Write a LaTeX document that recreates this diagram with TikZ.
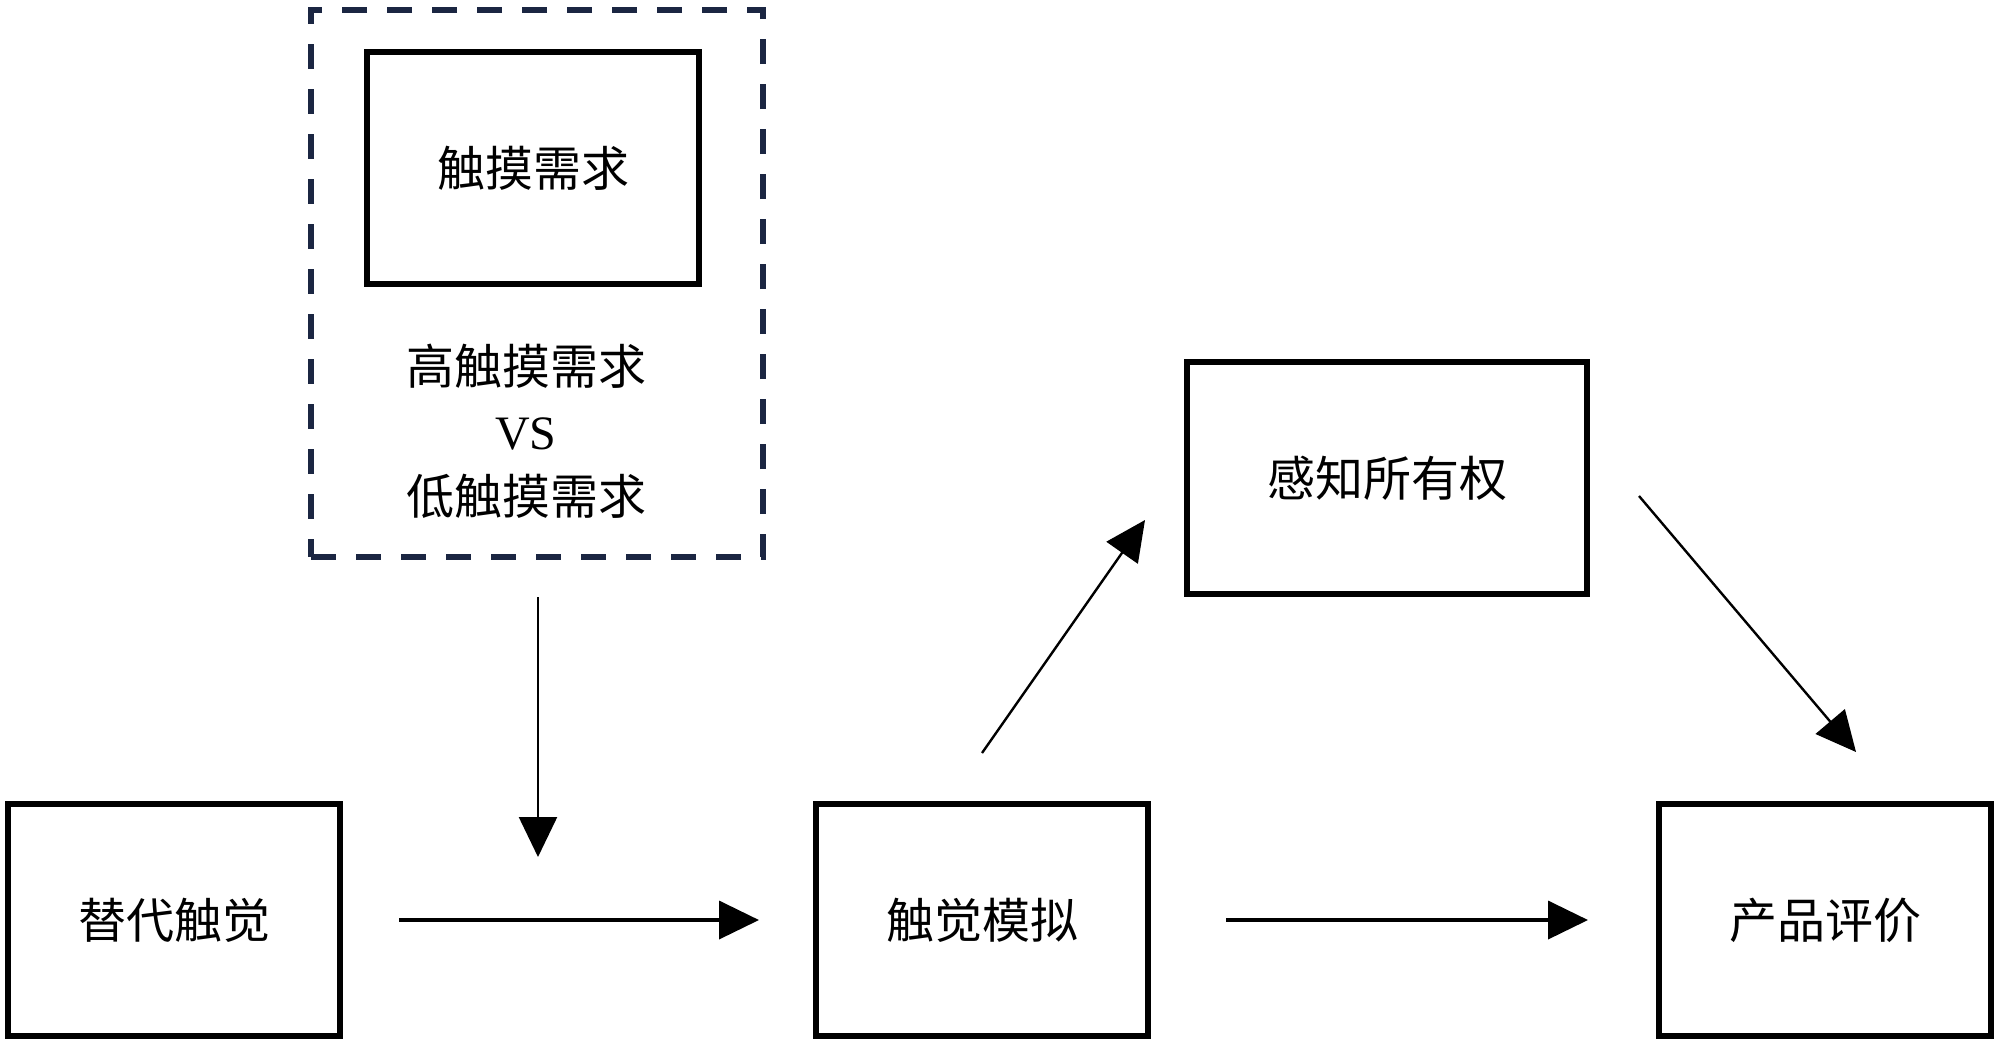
\documentclass[tikz,border=0pt]{standalone}
\usepackage{fontspec}
\setmainfont{Liberation Serif}
\newfontfamily\cjk{Noto Sans CJK SC}
\usetikzlibrary{arrows.meta}
\definecolor{navy}{HTML}{1B2642}
\begin{document}
\begin{tikzpicture}[x=0.5pt,y=-0.5pt,
  box/.style={draw, line width=2.6pt, rectangle, inner sep=0pt, outer sep=0pt,
    minimum width=166pt, minimum height=116pt,
    font=\cjk\fontsize{24}{28}\selectfont},
  modbox/.style={draw=navy, line width=2.8pt, dash pattern=on 12.5pt off 10pt,
    rectangle, inner sep=0pt, outer sep=0pt, minimum width=226pt, minimum height=273.5pt},
  arr/.style={line width=1.9pt, -{Triangle[length=20pt,width=19pt]}},
  thinarr/.style={line width=1.2pt, -{Triangle[length=20pt,width=19pt]}}]
\useasboundingbox (0,0) rectangle (2000,1046);
\node[modbox] (mod) at (537,283.5) {};
\node[box] (touch) at (533,168) {触摸需求};
\node[align=center, font=\fontsize{24}{32.5}\selectfont] (lvl) at (526,431)
  {{\cjk 高触摸需求}\\VS\\{\cjk 低触摸需求}};
\node[box] (subst) at (174,920) {替代触觉};
\node[box] (sim) at (982,920) {触觉模拟};
\node[box] (eval) at (1825,920) {产品评价};
\node[box, minimum width=200pt] (own) at (1387,478) {感知所有权};
\coordinate (v1) at (538,597);
\coordinate (v2) at (538,857);
\coordinate (d1) at (982,753);
\coordinate (d2) at (1145,520);
\coordinate (e1) at (1639,496);
\coordinate (e2) at (1856,752);
\draw[thinarr] (v1) -- (v2);
\draw[arr, shorten <=29.5pt, shorten >=28.5pt] (subst) -- (sim);
\draw[arr, shorten <=39pt, shorten >=35.5pt] (sim) -- (eval);
\draw[thinarr] (d1) -- (d2);
\draw[thinarr] (e1) -- (e2);
\end{tikzpicture}
\end{document}
